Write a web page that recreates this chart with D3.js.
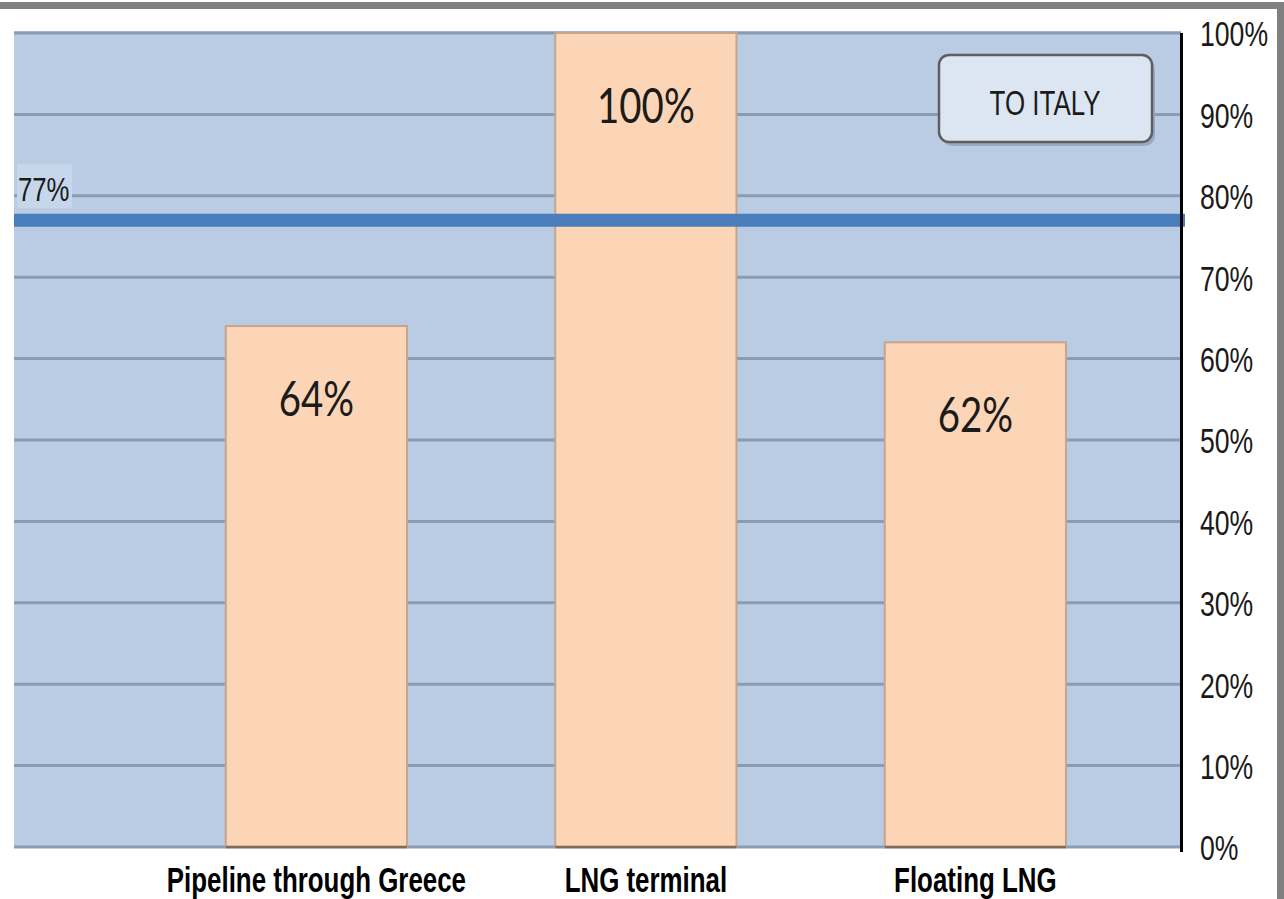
<!DOCTYPE html>
<html>
<head>
<meta charset="utf-8">
<script src="https://cdn.jsdelivr.net/npm/d3@7/dist/d3.min.js"></script>
<style>
  html, body { margin: 0; padding: 0; background: #ffffff; }
  svg { display: block; }
</style>
</head>
<body>
<svg id="chart" width="1284" height="899"></svg>
<script>
// Share of route capacity (fraction of 1)
const categories = ["Pipeline through Greece", "LNG terminal", "Floating LNG"];
const shares = [0.64, 1.00, 0.62];
const barLabels = ["64%", "100%", "62%"];
const referenceValue = 0.77;
const referenceLabel = "77%";
const tickValues = [0, 0.1, 0.2, 0.3, 0.4, 0.5, 0.6, 0.7, 0.8, 0.9, 1.0];
const legendLabel = "TO ITALY";

const svg = d3.select("#chart");
const plot = { left: 14, right: 1181, top: 33, bottom: 847 };
const SX = 0.74; // narrow text face

const x = d3.scaleBand()
  .domain(categories)
  .range([plot.left, plot.right])
  .paddingInner(0.45)
  .paddingOuter(0.496)
  .align(0.648);

const y = d3.scaleLinear().domain([0, 1]).range([plot.bottom, plot.top]);

// outer frame
svg.append("rect")
  .attr("x", -20).attr("y", 5.5)
  .attr("width", 1300.5).attr("height", 1000)
  .attr("fill", "none").attr("stroke", "#808080").attr("stroke-width", 7);

// plot background
svg.append("rect")
  .attr("x", plot.left).attr("y", y(1) - 2)
  .attr("width", plot.right - plot.left).attr("height", y(0) - y(1) + 2)
  .attr("fill", "#b9cce4");

// horizontal gridlines
svg.append("g")
  .selectAll("line")
  .data(tickValues)
  .join("line")
  .attr("x1", plot.left).attr("x2", plot.right)
  .attr("y1", d => y(d)).attr("y2", d => y(d))
  .attr("stroke", "#8b9bb1").attr("stroke-width", 3);

// bars
svg.append("g")
  .selectAll("rect")
  .data(shares)
  .join("rect")
  .attr("x", (d, i) => x(categories[i]))
  .attr("y", d => y(d))
  .attr("width", x.bandwidth())
  .attr("height", d => y(0) - y(d))
  .attr("fill", "#fbd5b5")
  .attr("stroke", "#c6a58a")
  .attr("stroke-width", 2);

// bar bottoms
svg.append("g")
  .selectAll("line")
  .data(shares)
  .join("line")
  .attr("x1", (d, i) => x(categories[i]))
  .attr("x2", (d, i) => x(categories[i]) + x.bandwidth())
  .attr("y1", y(0)).attr("y2", y(0))
  .attr("stroke", "#7d6a5a").attr("stroke-width", 2.5);

// bar value labels
svg.append("g")
  .selectAll("text")
  .data(shares)
  .join("text")
  .attr("transform", (d, i) =>
    `translate(${x(categories[i]) + x.bandwidth() / 2},${y(d) + 90}) scale(0.8,1)`)
  .attr("text-anchor", "middle")
  .attr("font-family", "Lato, 'Open Sans', sans-serif")
  .attr("font-size", 48)
  .attr("fill", "#1b1b1b")
  .text((d, i) => barLabels[i]);

// reference line
svg.append("line")
  .attr("x1", plot.left).attr("x2", plot.right + 4)
  .attr("y1", y(referenceValue)).attr("y2", y(referenceValue))
  .attr("stroke", "#4a7ebb").attr("stroke-width", 13);

// reference label
const refG = svg.append("g")
  .attr("transform", `translate(${plot.left + 3},${y(referenceValue) - 56})`);
refG.append("rect")
  .attr("width", 55).attr("height", 44)
  .attr("fill", "#c6d7ec");
refG.append("text")
  .attr("transform", "translate(1,37) scale(0.78,1)")
  .attr("font-family", "'Liberation Sans', Arial, sans-serif")
  .attr("font-size", 33)
  .attr("fill", "#1b1b1b")
  .text(referenceLabel);

// right value axis
const axis = d3.axisRight(y)
  .tickValues(tickValues)
  .tickFormat(d3.format(".0%"))
  .tickSize(0)
  .tickSizeOuter(0);
const axisG = svg.append("g")
  .attr("transform", `translate(${plot.right + 0.5},0)`)
  .call(axis);
axisG.select(".domain").remove();
axisG.selectAll("text")
  .attr("x", 18.5 / SX)
  .attr("dy", "0.36em")
  .attr("transform", `scale(${SX},1)`)
  .attr("font-family", "'Liberation Sans', Arial, sans-serif")
  .attr("font-size", 36)
  .attr("fill", "#1a1a1a");
svg.append("line")
  .attr("x1", plot.right + 0.5).attr("x2", plot.right + 0.5)
  .attr("y1", y(1)).attr("y2", y(0) + 5)
  .attr("stroke", "#000").attr("stroke-width", 3);

// category labels
svg.append("g")
  .selectAll("text")
  .data(categories)
  .join("text")
  .attr("transform", d => `translate(${x(d) + x.bandwidth() / 2},892) scale(${SX},1)`)
  .attr("text-anchor", "middle")
  .attr("font-family", "'Liberation Sans', Arial, sans-serif")
  .attr("font-weight", "bold")
  .attr("font-size", 35)
  .attr("fill", "#000")
  .text(d => d);

// legend box
const lg = svg.append("g").attr("transform", "translate(939,55)");
lg.append("rect")
  .attr("x", 3).attr("y", 4)
  .attr("width", 213).attr("height", 87).attr("rx", 10)
  .attr("fill", "#9aaac0");
lg.append("rect")
  .attr("width", 213).attr("height", 87).attr("rx", 10)
  .attr("fill", "#dce6f2")
  .attr("stroke", "#5e5e5e").attr("stroke-width", 2.5);
lg.append("text")
  .attr("transform", `translate(106,60) scale(0.72,1)`)
  .attr("text-anchor", "middle")
  .attr("font-family", "'Liberation Sans', Arial, sans-serif")
  .attr("font-size", 36)
  .attr("fill", "#1b1b1b")
  .text(legendLabel);
</script>
</body>
</html>
